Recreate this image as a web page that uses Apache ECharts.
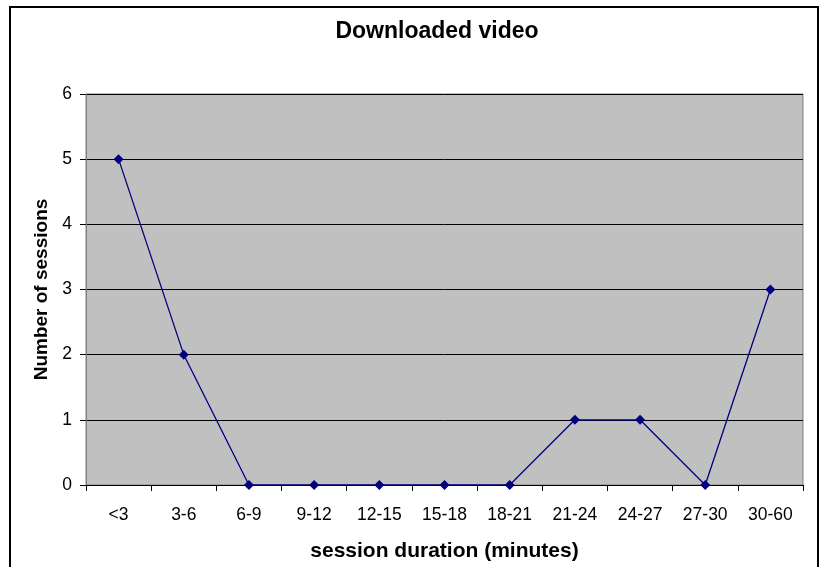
<!DOCTYPE html>
<html>
<head>
<meta charset="utf-8">
<script src="https://cdn.jsdelivr.net/npm/echarts@6/dist/echarts.min.js"></script>
<style>
  html, body { margin: 0; padding: 0; background: #fff; }
  #frame { position: absolute; left: 9px; top: 6px; width: 810px; height: 570px; border: 2px solid #000; box-sizing: border-box; }
  #chart { width: 824px; height: 567px; position: absolute; left: 0; top: 0; }
</style>
</head>
<body>
<div id="frame"></div>
<div id="chart"></div>
<script>
// Session duration buckets (minutes) and number of sessions in each
const durations = ['<3', '3-6', '6-9', '9-12', '12-15', '15-18', '18-21', '21-24', '24-27', '27-30', '30-60'];
const sessions = [5, 2, 0, 0, 0, 0, 0, 1, 1, 0, 3];

const chart = echarts.init(document.getElementById('chart'), null, { renderer: 'canvas' });
const font = 'Arial, "Liberation Sans", sans-serif';

chart.setOption({
  animation: false,
  backgroundColor: 'transparent',
  title: {
    text: 'Downloaded video',
    left: 432,
    top: 15,
    textAlign: 'center',
    textStyle: { fontFamily: font, fontSize: 23, fontWeight: 'bold', color: '#000' }
  },
  grid: {
    left: 86, right: 21, top: 94, bottom: 82,
    outerBoundsMode: 'none',
    containLabel: false,
    show: true,
    backgroundColor: '#c0c0c0',
    borderColor: '#808080',
    borderWidth: 1
  },
  xAxis: {
    type: 'category',
    data: durations,
    boundaryGap: true,
    name: 'session duration (minutes)',
    nameLocation: 'middle',
    nameGap: 56,
    nameTextStyle: { fontFamily: font, fontSize: 21, fontWeight: 'bold', color: '#000' },
    axisLine: { lineStyle: { color: '#000', width: 1 } },
    axisTick: { show: true, length: 6, alignWithLabel: false, lineStyle: { color: '#000' } },
    axisLabel: { fontFamily: font, fontSize: 17.5, color: '#000', margin: 21 },
    splitLine: { show: false }
  },
  yAxis: {
    type: 'value',
    min: 0, max: 6, interval: 1,
    name: 'Number of sessions',
    nameLocation: 'middle',
    nameGap: 34,
    nameTextStyle: { fontFamily: font, fontSize: 19, fontWeight: 'bold', color: '#000' },
    axisLine: { show: true, lineStyle: { color: '#808080' } },
    axisTick: { show: true, length: 6, inside: false, lineStyle: { color: '#000' } },
    axisLabel: { fontFamily: font, fontSize: 17.5, color: '#000', margin: 14 },
    splitLine: { show: true, lineStyle: { color: '#000', width: 1 } }
  },
  series: [{
    type: 'line',
    data: sessions,
    symbol: 'diamond',
    symbolSize: 10,
    lineStyle: { color: '#000080', width: 1.3 },
    itemStyle: { color: '#000080' }
  }]
});
</script>
</body>
</html>
